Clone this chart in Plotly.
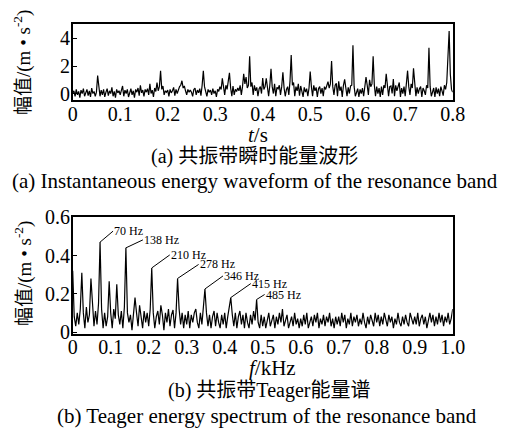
import plotly.graph_objects as go

# ---------------- data: (a) instantaneous energy waveform ----------------
t_step = 0.0025  # s, sample spacing
wave_values = [
    0.05, 0.2, -0.2, 0.3, -0.1, 0.15, -0.3, 0.25, 0.0, 0.35, -0.2, 0.1, 0.3, -0.15, 0.2, -0.25, 0.4, 0.0, 0.15, -0.2,
    0.1, 1.3, 0.2, -0.2, 0.25, -0.1, 0.3, -0.25, 0.1, 0.35, -0.15, 0.2, 0.0, 0.45, -0.2, 0.15, -0.3, 0.3, 0.05, 0.2,
    -0.1, 0.2, 0.55, -0.2, 0.25, 0.0, 0.3, -0.25, 0.15, 0.35, -0.1, 0.2, -0.3, 0.3, 0.1, 0.4, -0.15, 0.6, 0.05, 0.25,
    -0.2, 0.3, 0.1, 0.35, -0.1, 0.7, 0.0, 0.25, -0.25, 0.4, 0.15, 0.8, 0.2, 0.5, 1.66, 0.3, 0.55, -0.1, 0.2, 0.1,
    0.25, -0.2, 0.3, 0.05, 0.2, 0.45, -0.15, 0.3, 0.0, 0.35, 0.5, 0.6, 0.93, 0.4, 0.55, 0.2, -0.1, 0.3, 0.1, 0.25,
    0.1, -0.2, 0.3, 0.4, -0.1, 0.25, 0.05, 0.35, -0.15, 0.6, 1.66, 0.5, 0.2, -0.2, 0.3, 0.1, 0.25, -0.1, 0.35, 0.0,
    0.2, -0.25, 0.3, 0.15, 0.5, 0.3, 1.1, 0.45, -0.1, 0.6, 0.3, 0.9, 1.5, 0.4, -0.2, 0.55, -0.1, 0.3, 0.15, 0.4,
    0.2, 0.6, -0.1, 0.5, 1.43, 0.7, 1.2, 0.4, 0.6, 2.71, 0.5, 0.8, -0.1, 0.6, 0.2, 0.45, -0.2, 0.35, 0.5, 0.0,
    1.12, 0.3, 0.5, 1.1, 0.4, -0.2, 0.6, 1.79, 0.5, 0.0, 0.7, -0.2, 0.45, 0.35, 0.6, -0.1, 0.5, 1.55, 0.4, -0.2,
    0.3, 0.5, -0.1, 0.9, 2.79, 0.6, 0.8, -0.2, 0.5, 0.2, 0.7, -0.15, 0.55, 0.2, -0.25, 0.45, 0.1, 0.35, -0.2, 0.4,
    1.6, 0.5, -0.2, 0.6, 0.2, 0.45, -0.25, 0.35, 0.5, 0.0, 0.4, -0.2, 0.5, 0.3, 0.6, 0.86, 0.4, 0.7, 2.36, 0.5,
    -0.1, 0.6, 0.74, -0.2, 0.88, 0.2, 0.5, -0.25, 0.6, 1.03, 0.4, -0.2, 0.45, 0.0, 0.55, 0.6, 3.5, 0.5, -0.2, 0.2,
    0.35, -0.25, 0.3, 0.0, 0.4, -0.2, 0.5, 1.19, 0.6, -0.1, 1.0, 0.5, 0.7, 2.71, 0.6, -0.2, 0.5, 0.0, 0.4, -0.25,
    0.5, -0.1, 0.6, 0.4, 1.43, 0.7, -0.2, 0.5, 0.55, 0.0, 1.05, -0.2, 0.6, 0.2, 0.5, 0.8, -0.25, 0.4, 0.0, 0.5,
    -0.2, 0.6, 1.66, 0.5, -0.1, 0.7, 0.4, 1.83, 0.6, -0.2, 0.45, 0.0, 0.35, 0.5, -0.25, 0.4, 0.2, -0.1, 0.6, 0.4,
    3.33, 0.5, -0.2, 0.2, 0.4, -0.25, 0.45, 0.0, 0.35, -0.2, 0.5, 0.2, -0.15, 0.6, 0.3, 0.8, 2.55, 4.55, 1.4, 0.3,
    0.1,
]
t_values = [round(i * t_step, 5) for i in range(len(wave_values))]
t_ticks = [0, 0.1, 0.2, 0.3, 0.4, 0.5, 0.6, 0.7, 0.8]
t_ticktext = ["0", "0.1", "0.2", "0.3", "0.4", "0.5", "0.6", "0.7", "0.8"]
a_yticks = [0, 2, 4]

# ---------------- data: (b) Teager energy spectrum ----------------
f_step = 0.004  # kHz
spec_values = [
    0.32, 0.08, 0.03, 0.1, 0.04, 0.12, 0.31, 0.1, 0.02, 0.13, 0.05, 0.09, 0.28, 0.12, 0.03, 0.11, 0.04, 0.15, 0.47, 0.12, 0.02, 0.1, 0.03, 0.08, 0.265,
    0.1, 0.02, 0.12, 0.07, 0.25, 0.09, 0.04, 0.11, 0.02, 0.13, 0.44, 0.1, 0.05, 0.09, 0.01, 0.12, 0.18, 0.1, 0.03, 0.14, 0.08, 0.02, 0.11, 0.05, 0.1,
    0.03, 0.12, 0.335, 0.1, 0.02, 0.08, 0.11, 0.04, 0.14, 0.09, 0.01, 0.1, 0.05, 0.12, 0.03, 0.09, 0.115, 0.02, 0.1, 0.28, 0.12, 0.04, 0.1, 0.02, 0.09,
    0.04, 0.11, 0.02, 0.09, 0.05, 0.1, 0.12, 0.05, 0.02, 0.1, 0.04, 0.13, 0.225, 0.1, 0.03, 0.09, 0.02, 0.08, 0.11, 0.03, 0.1, 0.05, 0.02, 0.09, 0.04,
    0.1, 0.02, 0.08, 0.12, 0.18, 0.09, 0.03, 0.1, 0.02, 0.08, 0.11, 0.04, 0.09, 0.02, 0.1, 0.05, 0.02, 0.09, 0.04, 0.11, 0.06, 0.17, 0.05, 0.02, 0.09,
    0.03, 0.08, 0.02, 0.07, 0.1, 0.03, 0.06, 0.09, 0.02, 0.08, 0.04, 0.1, 0.05, 0.12, 0.03, 0.07, 0.09, 0.02, 0.06, 0.08, 0.03, 0.1, 0.04, 0.07, 0.02,
    0.07, 0.03, 0.09, 0.04, 0.1, 0.02, 0.06, 0.08, 0.03, 0.09, 0.05, 0.1, 0.02, 0.07, 0.04, 0.09, 0.03, 0.08, 0.05, 0.1, 0.03, 0.07, 0.02, 0.08, 0.04,
    0.08, 0.03, 0.1, 0.05, 0.09, 0.02, 0.07, 0.04, 0.1, 0.03, 0.08, 0.05, 0.09, 0.03, 0.07, 0.04, 0.1, 0.05, 0.02, 0.08, 0.04, 0.09, 0.06, 0.03, 0.1,
    0.05, 0.09, 0.03, 0.08, 0.04, 0.1, 0.06, 0.03, 0.09, 0.05, 0.08, 0.02, 0.07, 0.04, 0.1, 0.05, 0.03, 0.08, 0.04, 0.09, 0.05, 0.03, 0.1, 0.06, 0.04,
    0.08, 0.04, 0.1, 0.03, 0.07, 0.09, 0.04, 0.08, 0.02, 0.07, 0.1, 0.05, 0.09, 0.03, 0.08, 0.04, 0.1, 0.05, 0.09, 0.03, 0.08, 0.05, 0.1, 0.04, 0.07,
    0.12,
]
f_values = [round(i * f_step, 5) for i in range(len(spec_values))]
f_ticks = [0, 0.1, 0.2, 0.3, 0.4, 0.5, 0.6, 0.7, 0.8, 0.9, 1.0]
f_ticktext = ["0", "0.1", "0.2", "0.3", "0.4", "0.5", "0.6", "0.7", "0.8", "0.9", "1.0"]
b_yticks = [0, 0.2, 0.4, 0.6]

peak_freqs = [0.072, 0.140, 0.208, 0.276, 0.348, 0.416, 0.484]
peak_labels = ["70 Hz", "138 Hz", "210 Hz", "278 Hz", "346 Hz", "415 Hz", "485 Hz"]

# ---------------- styles ----------------
# the page body adds an 8 px margin, so the figure is drawn 8 px smaller
# and every reference pixel position is shifted by that offset
OFF = 8
W, H = 518 - OFF, 431 - OFF
SERIF = "Liberation Serif, 'Times New Roman', 'Noto Sans CJK SC', serif"
label_offsets = [(13, -11), (17, -8), (18, -13), (21, -14), (18, -13), (20, -14), (8, -5)]

def px(xp):
    return (xp - OFF) / W

def py(yp):
    return 1 - (yp - OFF) / H

fig = go.Figure()
fig.add_trace(go.Scatter(x=t_values, y=wave_values, mode="lines",
                         line=dict(color="black", width=1.2), xaxis="x", yaxis="y",
                         showlegend=False, hoverinfo="skip"))
fig.add_trace(go.Scatter(x=f_values, y=spec_values, mode="lines",
                         line=dict(color="black", width=1.2), xaxis="x2", yaxis="y2",
                         showlegend=False, hoverinfo="skip"))

axis_common = dict(showline=True, linecolor="black", linewidth=1.5, mirror=True,
                   showgrid=False, zeroline=False, automargin=False,
                   tickfont=dict(family=SERIF, size=20, color="black"))

fig.update_layout(
    width=W, height=H,
    margin=dict(l=0, r=0, t=0, b=0),
    paper_bgcolor="white", plot_bgcolor="white",
    xaxis=dict(domain=[px(72.7), px(452.7)], range=[0, 0.8], anchor="y",
               tickvals=t_ticks, ticktext=t_ticktext, ticks="", ticklabelstandoff=-5,
               **axis_common),
    yaxis=dict(domain=[py(100), py(24.3)], range=[-0.47, 5.03], anchor="x",
               tickvals=a_yticks, ticks="inside", ticklen=5, tickwidth=1.2,
               tickcolor="black", ticklabelstandoff=-3, **axis_common),
    xaxis2=dict(domain=[px(72.7), px(452.7)], range=[0, 1.0], anchor="y2",
                tickvals=f_ticks, ticktext=f_ticktext, ticks="", ticklabelstandoff=-6,
                **axis_common),
    yaxis2=dict(domain=[py(334.3), py(216.7)], range=[-0.012, 0.603], anchor="x2",
                tickvals=b_yticks, ticks="inside", ticklen=5, tickwidth=1.2,
                tickcolor="black", ticklabelstandoff=-3, **axis_common),
)

annotations = []
for f, lab, (ax, ay) in zip(peak_freqs, peak_labels, label_offsets):
    idx = round(f / f_step)
    annotations.append(dict(
        x=f_values[idx], y=spec_values[idx], xref="x2", yref="y2",
        text=lab, showarrow=True, arrowhead=0, arrowwidth=1, arrowcolor="black",
        ax=ax, ay=ay, xanchor="left", yanchor="middle", standoff=0,
        font=dict(family=SERIF, size=12, color="black"), borderpad=0))

def text_at(xp, yp, text, size=20, angle=0):
    annotations.append(dict(x=px(xp), y=py(yp), xref="paper", yref="paper",
                            text=text, showarrow=False, xanchor="center", yanchor="middle",
                            textangle=angle, font=dict(family=SERIF, size=size, color="black")))

ytitle = "幅值/(m • s<sup>-2</sup>)"
text_at(23, 63, ytitle, size=19, angle=-90)
text_at(23, 274, ytitle, size=19, angle=-90)
text_at(258, 135, "<i>t</i>/s", size=21)
text_at(272, 368, "<i>f</i>/kHz", size=21)
text_at(254, 156, "(a) 共振带瞬时能量波形")
text_at(255, 181, "(a) Instantaneous energy waveform of the resonance band", size=21)
text_at(269, 390, "(b) 共振带Teager能量谱")
text_at(267, 416, "(b) Teager energy spectrum of the resonance band", size=21)

fig.update_layout(annotations=annotations)
fig.write_html("out.html")
